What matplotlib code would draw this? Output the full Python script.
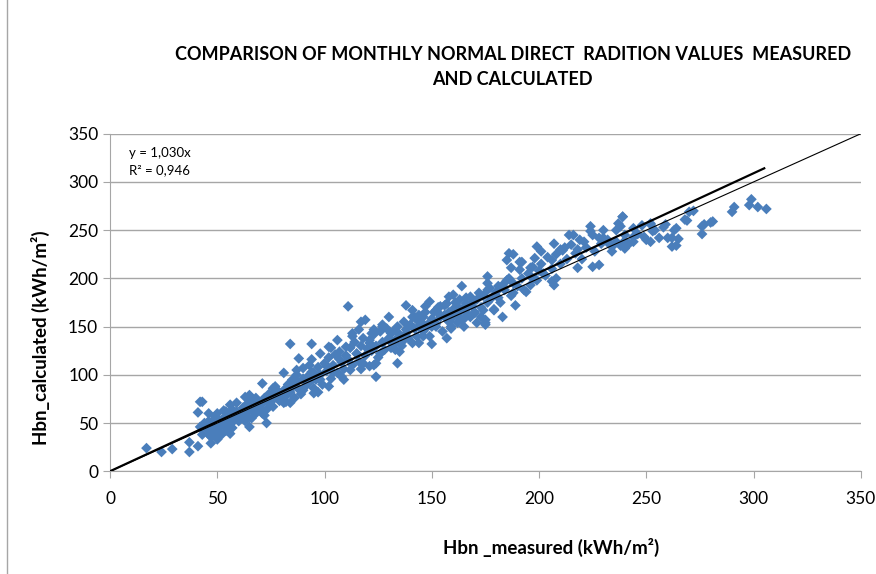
import matplotlib.pyplot as plt
from matplotlib.lines import Line2D

# Measured vs calculated monthly normal direct radiation (kWh/m2)
hbn_measured = [
    17, 24, 29, 37, 37, 41, 42, 43, 41, 42, 43, 46, 47, 50, 51, 46, 49, 52, 54, 56,
    54, 56, 59, 59, 62, 60, 65, 64, 65, 63, 68, 69, 71, 71, 73, 74, 77, 76, 81, 81,
    81, 84, 84, 85, 88, 87, 90, 91, 90, 94, 95, 95, 98, 98, 101, 102, 102, 104, 106, 107,
    109, 110, 112, 113, 115, 116, 117, 119, 118, 121, 121, 124, 123, 111, 84, 94, 49, 47,
    44, 45, 46, 48, 49, 50, 47, 50, 52, 53,
    52, 53, 55, 56, 57, 58, 59, 60, 57, 54,
    61, 62, 63, 64, 65, 66, 67, 68, 69, 70, 63, 66,
    71, 72, 73, 74, 75, 76, 77, 78, 79, 80, 72, 76,
    81, 82, 83, 84, 85, 86, 87, 88, 89, 90, 82, 87,
    91, 92, 93, 94, 95, 96, 97, 98, 99, 100, 93, 97,
    101, 102, 103, 104, 105, 106, 107, 108, 109, 110, 103, 108,
    111, 112, 113, 114, 115, 116, 117, 118, 119, 120, 113, 117,
    121, 122, 123, 124, 125, 126, 127, 128, 129, 130, 123, 127,
    122, 124, 126, 127, 130, 130, 131, 133, 133, 134, 135, 136, 137, 138, 138, 141,
    141, 143, 142, 144, 144, 146, 146, 148, 147, 149, 150, 150, 152, 152, 154, 154,
    156, 157, 157, 158, 158, 159, 160, 160, 162, 162, 164, 164, 165, 166, 166, 168,
    169, 171, 170, 173, 174, 175, 175, 175, 176, 176, 176, 179, 181, 183, 183, 186,
    186, 187, 188, 185, 188, 191, 191, 192, 194, 196, 197, 198, 198, 199, 201, 202,
    206, 206, 207, 207, 208, 210, 211, 214, 216, 218, 218, 221, 224, 224, 225, 228,
    228, 230, 233, 235, 236, 237, 238, 238, 239, 239, 240, 240, 244, 244, 249, 252,
    252, 252, 253, 258, 259, 260, 262, 262, 263, 264, 264, 265, 268, 269, 270, 272,
    276, 276, 277, 280, 281, 290, 291, 298, 299, 302, 306,
    131, 132, 133, 134, 135, 136, 137, 138, 139, 140,
    141, 142, 143, 144, 145, 146, 147, 148, 149, 150,
    151, 152, 153, 154, 155, 156, 157, 158, 159, 160,
    161, 162, 163, 164, 165, 166, 167, 168, 169, 170,
    171, 172, 173, 174, 176, 177, 178, 179, 180,
    181, 182, 184, 185, 187, 188, 189, 190,
    192, 193, 195, 196, 197, 199, 200,
    201, 203, 204, 206, 208, 210, 212, 213, 215,
    217, 219, 220, 222, 225, 226, 229, 230,
    232, 234, 236, 240, 242, 244,
    246, 248, 250, 254, 256,
]
hbn_calculated = [
    24, 20, 23, 20, 30, 26, 72, 72, 61, 46, 38, 38, 46, 33, 39, 60, 57, 53, 46, 39,
    62, 69, 71, 60, 57, 52, 46, 62, 79, 77, 76, 67, 91, 60, 50, 71, 88, 79, 81, 102,
    71, 88, 71, 95, 117, 105, 107, 95, 84, 116, 81, 102, 122, 95, 109, 88, 129, 102, 136, 116,
    95, 129, 105, 143, 122, 147, 155, 157, 112, 133, 109, 98, 147, 171, 132, 132, 41, 29,
    50, 44, 52, 47, 55, 44, 36, 60, 38, 63,
    48, 55, 50, 58, 45, 53, 62, 57, 64, 42,
    60, 66, 58, 70, 63, 55, 68, 60, 72, 65, 52, 74,
    70, 76, 64, 80, 72, 67, 78, 84, 73, 77, 58, 86,
    84, 78, 90, 82, 87, 76, 93, 85, 80, 96, 72, 100,
    88, 98, 92, 103, 86, 95, 108, 100, 90, 112, 110, 82,
    104, 118, 96, 110, 121, 102, 124, 113, 106, 120, 128, 98,
    116, 128, 110, 134, 122, 114, 130, 138, 120, 127, 140, 106,
    136, 125, 142, 130, 118, 145, 134, 126, 148, 138, 110, 152,
    143, 112, 122, 150, 136, 160, 143, 126, 133, 112, 124, 139, 136, 143, 172, 167,
    133, 157, 160, 133, 150, 140, 160, 150, 171, 176, 150, 132, 167, 153, 171, 162,
    162, 138, 174, 155, 181, 150, 183, 160, 154, 171, 157, 192, 150, 174, 164, 181,
    171, 154, 164, 160, 167, 152, 157, 154, 188, 195, 202, 167, 180, 193, 160, 200,
    226, 211, 185, 219, 225, 209, 217, 217, 186, 211, 200, 221, 200, 233, 228, 205,
    197, 219, 193, 236, 200, 230, 229, 245, 245, 230, 211, 238, 254, 249, 212, 242,
    214, 242, 235, 235, 238, 257, 254, 234, 264, 264, 231, 239, 238, 243, 243, 256,
    257, 238, 249, 253, 256, 242, 233, 242, 250, 252, 234, 241, 261, 260, 269, 270,
    246, 254, 256, 258, 259, 269, 274, 276, 282, 274, 272,
    128, 145, 136, 150, 142, 130, 155, 147, 138, 152,
    160, 148, 140, 162, 155, 145, 165, 152, 140, 158,
    165, 150, 170, 160, 145, 172, 158, 165, 148, 168,
    175, 162, 178, 168, 158, 180, 170, 160, 176, 165,
    178, 185, 170, 182, 175, 190, 180, 168, 186,
    192, 175, 188, 198, 182, 195, 172, 192,
    200, 188, 205, 193, 212, 198, 208,
    215, 203, 222, 210, 225, 215, 232, 220, 235,
    226, 240, 220, 232, 245, 228, 236, 250,
    240, 228, 250, 245, 236, 252,
    246, 255, 240, 250, 242,
]

slope = 1.030
trend_x = [0, 305]
ident_x = [0, 350]

plt.rcParams['font.family'] = ['Lato', 'DejaVu Sans']

fig = plt.figure(figsize=(8.76, 5.74), dpi=100)
ax = fig.add_axes([0.1256, 0.179, 0.857, 0.588])

ax.scatter(hbn_measured, hbn_calculated, marker='D', s=30, color='#4A7EBB',
           edgecolors='none', zorder=3)
ax.plot(trend_x, [slope * v for v in trend_x], color='black', lw=1.6, zorder=4)
ax.plot(ident_x, ident_x, color='black', lw=0.8, zorder=4)

ax.set_xlim(0, 350)
ax.set_ylim(0, 350)
ax.set_xticks(range(0, 351, 50))
ax.set_yticks(range(0, 351, 50))
ax.yaxis.grid(True, color='#A6A6A6', lw=1)
ax.set_axisbelow(True)
for s in ['top', 'right']:
    ax.spines[s].set_visible(False)
for s in ['left', 'bottom']:
    ax.spines[s].set_color('#A6A6A6')
ax.tick_params(axis='both', colors='#A6A6A6', labelcolor='black', labelsize=12.5, length=5)
ax.tick_params(axis='x', pad=9)

fig.text(0.629, 0.047, 'Hbn _measured (kWh/m²)', ha='center', va='center',
         fontsize=13.5, fontweight='bold')
fig.text(0.0457, 0.411, 'Hbn_calculated (kWh/m²)', ha='center', va='center',
         rotation=90, fontsize=13.5, fontweight='bold')
ax.text(9, 336, 'y = 1,030x\nR² = 0,946', fontsize=9.5, va='top', linespacing=1.5)

fig.text(0.586, 0.905, 'COMPARISON OF MONTHLY NORMAL DIRECT  RADITION VALUES  MEASURED',
         ha='center', va='center', fontsize=13, fontweight='bold')
fig.text(0.585, 0.862, 'AND CALCULATED', ha='center', va='center',
         fontsize=13, fontweight='bold')

fig.add_artist(Line2D([7 / 876, 7 / 876], [0, 1], color='#A6A6A6', lw=1))

plt.savefig('out.png', dpi=100)
plt.close()
